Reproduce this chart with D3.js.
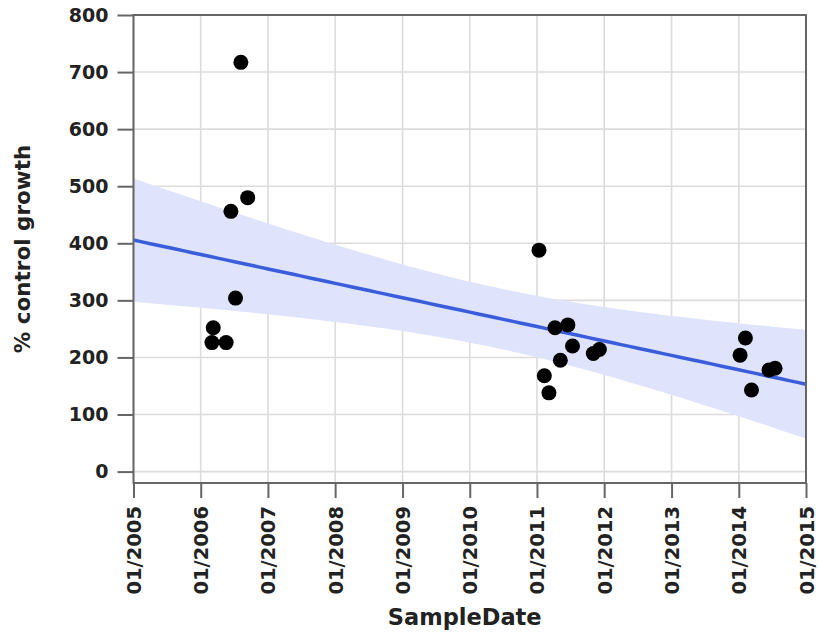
<!DOCTYPE html>
<html>
<head>
<meta charset="utf-8">
<script src="https://cdn.jsdelivr.net/npm/d3@7"></script>
<style>
  body { margin: 0; background: #fff; }
  svg text { font-family: "DejaVu Sans", sans-serif; font-weight: bold; fill: #222; }
</style>
</head>
<body>
<svg id="chart" width="820" height="636"></svg>
<script>
// sample dates and measured values
const sampleDates = [
  "2006-03-10", "2006-03-03", "2006-05-19", "2006-07-09", "2006-06-14", "2006-08-07", "2006-09-13",
  "2011-01-12", "2011-04-09", "2011-06-18", "2011-07-13", "2011-05-08", "2011-02-10", "2011-03-07", "2011-11-03", "2011-12-06",
  "2014-02-06", "2014-01-08", "2014-03-11", "2014-06-14", "2014-07-17"
];
const growth = [
  252, 226, 226, 304, 456, 717, 480,
  388, 252, 257, 220, 195, 168, 138, 207, 214,
  234, 204, 143, 178, 181
];
const xTickYears = [2005, 2006, 2007, 2008, 2009, 2010, 2011, 2012, 2013, 2014, 2015];
const yTicks = [0, 100, 200, 300, 400, 500, 600, 700, 800];

const parse = d3.timeParse("%Y-%m-%d");
const points = sampleDates.map((d, i) => ({date: parse(d), value: growth[i]}));

// plot box
const pLeft = 133.5, pRight = 806, pTop = 15, pBottom = 483;
const svg = d3.select("#chart");

const x = d3.scaleTime()
  .domain([new Date(2005, 0, 1), new Date(2015, 0, 1)])
  .range([pLeft, pRight]);
const y = d3.scaleLinear()
  .domain([-20, 800])
  .range([pBottom, pTop]);

// grid
const xTickDates = xTickYears.map(yr => new Date(yr, 0, 1));
svg.append("g").selectAll("line").data(xTickDates).join("line")
  .attr("x1", d => x(d)).attr("x2", d => x(d))
  .attr("y1", pTop).attr("y2", pBottom)
  .attr("stroke", "#dcdcdc").attr("stroke-width", 1.6);
svg.append("g").selectAll("line").data(yTicks).join("line")
  .attr("x1", pLeft).attr("x2", pRight)
  .attr("y1", d => y(d)).attr("y2", d => y(d))
  .attr("stroke", "#dcdcdc").attr("stroke-width", 1.6);

// linear fit with 95% confidence band
const yearOf = d => d.getFullYear() + (d - new Date(d.getFullYear(), 0, 1)) / (365.25 * 864e5);
const xs = points.map(p => yearOf(p.date));
const ys = points.map(p => p.value);
const n = xs.length;
const mx = d3.mean(xs), my = d3.mean(ys);
const sxx = d3.sum(xs, v => (v - mx) ** 2);
const sxy = d3.sum(xs, (v, i) => (v - mx) * (ys[i] - my));
const slope = sxy / sxx, icpt = my - slope * mx;
const s = Math.sqrt(d3.sum(xs, (v, i) => (ys[i] - (icpt + slope * v)) ** 2) / (n - 2));
const tcrit = 2.093; // t(0.975, 19)

const fit = d3.range(0, 81).map(i => {
  const date = new Date(+x.domain()[0] + i / 80 * (x.domain()[1] - x.domain()[0]));
  const xv = yearOf(date);
  const yhat = icpt + slope * xv;
  const se = s * Math.sqrt(1 / n + (xv - mx) ** 2 / sxx);
  return {date, yhat, lo: yhat - tcrit * se, hi: yhat + tcrit * se};
});

svg.append("path")
  .datum(fit)
  .attr("fill", "#dfe3fb")
  .attr("d", d3.area().x(d => x(d.date)).y0(d => y(d.lo)).y1(d => y(d.hi)));

svg.append("path")
  .datum(fit)
  .attr("fill", "none")
  .attr("stroke", "#3a5ddb")
  .attr("stroke-width", 3.5)
  .attr("d", d3.line().x(d => x(d.date)).y(d => y(d.yhat)));

// points
svg.append("g").selectAll("circle").data(points).join("circle")
  .attr("cx", d => x(d.date))
  .attr("cy", d => y(d.value))
  .attr("r", 7.5)
  .attr("fill", "#000");

// frame
svg.append("rect")
  .attr("x", pLeft).attr("y", pTop)
  .attr("width", pRight - pLeft).attr("height", pBottom - pTop)
  .attr("fill", "none").attr("stroke", "#666").attr("stroke-width", 2);

// axes
const xAxis = svg.append("g")
  .attr("transform", `translate(0,${pBottom})`)
  .call(d3.axisBottom(x).tickValues(xTickDates).tickFormat(d3.timeFormat("%m/%Y")).tickSize(15).tickPadding(8));
xAxis.select(".domain").remove();
xAxis.selectAll(".tick line").attr("stroke", "#666").attr("stroke-width", 2);
xAxis.selectAll(".tick text")
  .attr("transform", "rotate(-90)")
  .attr("text-anchor", "end")
  .attr("x", -23).attr("y", 0).attr("dy", "0.36em")
  .style("font-size", "19.5px");

const yAxis = svg.append("g")
  .attr("transform", `translate(${pLeft},0)`)
  .call(d3.axisLeft(y).tickValues(yTicks).tickSize(16).tickPadding(9));
yAxis.select(".domain").remove();
yAxis.selectAll(".tick line").attr("stroke", "#666").attr("stroke-width", 2);
yAxis.selectAll(".tick text").style("font-size", "19px");

// titles
svg.append("text")
  .attr("x", (pLeft + pRight) / 2 - 5).attr("y", 625)
  .attr("text-anchor", "middle")
  .style("font-size", "22.5px")
  .text("SampleDate");

svg.append("text")
  .attr("transform", `translate(30,${(pTop + pBottom) / 2}) rotate(-90)`)
  .attr("text-anchor", "middle")
  .style("font-size", "21.5px")
  .text("% control growth");
</script>
</body>
</html>
